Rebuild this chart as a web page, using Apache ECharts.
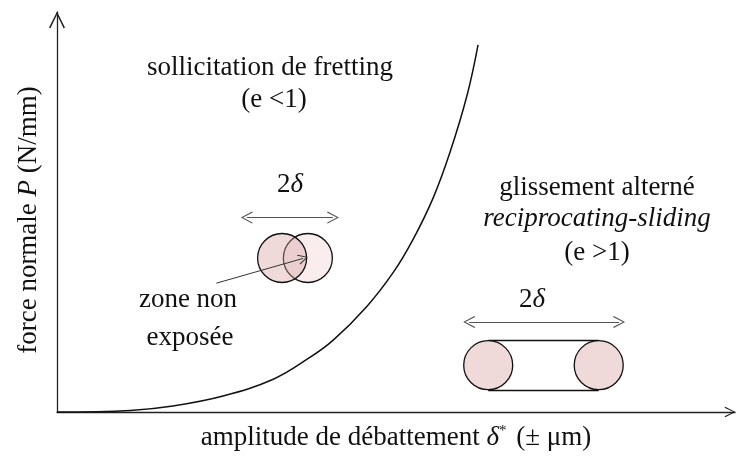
<!DOCTYPE html>
<html>
<head>
<meta charset="utf-8">
<script src="https://cdn.jsdelivr.net/npm/echarts@6/dist/echarts.min.js"></script>
<style>
  html, body { margin: 0; padding: 0; background: #fff; }
  #main { width: 737px; height: 456px; }
</style>
</head>
<body>
<div id="main"></div>
<script>
// courbe de transition (unités arbitraires 0..100)
const curveX = [0, 10.8, 17.1, 24.5, 31.9, 36.9, 40.7, 45.7, 49.6, 52.5, 55.5, 58.0, 60.5, 62.1];
const curveY = [0, 0.4, 1.5, 4.0, 8.2, 13.2, 17.9, 26.4, 34.9, 43.1, 53.6, 65.1, 79.3, 91.8];

// contacts schématiques : [x, y]
const fretLeft = [33.2, 38.5];
const fretRight = [37.0, 38.5];
const slideLeft = [63.6, 11.7];
const slideRight = [79.9, 11.7];

// flèches 2δ et flèche "zone non exposée"
const fretArrow = [[28.0, 48.6], [40.7, 48.6]];
const slideArrow = [[60.8, 22.5], [82.9, 22.5]];
const zoneArrow = [[23.5, 32.2], [36.3, 38.4]];
// tangentes entre les deux cercles
const slideTop = [[63.6, 18.0], [79.9, 18.0]];
const slideBottom = [[63.6, 5.5], [79.9, 5.5]];

const FONT = '"Liberation Serif", "DejaVu Serif", serif';
const FS = 27;
// chevron ouvert (pointe en haut)
const chevron = 'path://M5,0 L10,10 L9.2,10.7 L5,2 L0.8,10.7 L0,10 Z';

const myChart = echarts.init(document.getElementById('main'));

const text = (x, y, t, extra) => ({
    type: 'text', x: x, y: y,
    style: Object.assign({
        text: t, font: FS + 'px ' + FONT, fill: '#111',
        align: 'center', verticalAlign: 'middle',
        rich: {i: {fontStyle: 'italic', fontSize: FS, fontFamily: FONT, fill: '#111'}}
    }, extra || {})
});

const option = {
    animation: false,
    grid: {left: 57, right: 2, top: 12, bottom: 42},
    xAxis: {
        type: 'value', min: 0, max: 100,
        axisLine: {
            lineStyle: {color: '#222', width: 1.3},
            symbol: ['none', chevron], symbolSize: [20, 11], symbolOffset: [0, -5]
        },
        axisTick: {show: false}, axisLabel: {show: false}, splitLine: {show: false},
        name: 'amplitude de débattement {i|δ}{s|*} (± μm)',
        nameLocation: 'middle', nameGap: 12,
        nameTextStyle: {
            fontFamily: FONT, fontSize: FS, color: '#111',
            rich: {
                i: {fontStyle: 'italic', fontFamily: FONT, fontSize: FS, color: '#111'},
                s: {fontFamily: FONT, fontSize: 15, color: '#111', verticalAlign: 'top', padding: [0, 3, 10, 0]}
            }
        }
    },
    yAxis: {
        type: 'value', min: 0, max: 100,
        axisLine: {
            lineStyle: {color: '#222', width: 1.3},
            symbol: ['none', chevron], symbolSize: [19, 17], symbolOffset: [0, -8]
        },
        axisTick: {show: false}, axisLabel: {show: false}, splitLine: {show: false},
        name: 'force normale {i|P} (N/mm)',
        nameLocation: 'middle', nameGap: 15, nameRotate: 90,
        nameTextStyle: {
            fontFamily: FONT, fontSize: FS, color: '#111', padding: [0, 16, 0, 0],
            rich: {i: {fontStyle: 'italic', fontFamily: FONT, fontSize: FS, color: '#111'}}
        }
    },
    series: [
        {
            name: 'transition', type: 'line', smooth: 0.4, symbol: 'none',
            lineStyle: {color: '#111', width: 1.5},
            data: curveX.map((x, i) => [x, curveY[i]]), z: 3
        },
        {
            // tangentes
            type: 'lines', coordinateSystem: 'cartesian2d', symbol: 'none',
            lineStyle: {color: '#111', width: 1.3, opacity: 1},
            data: [{coords: slideTop}, {coords: slideBottom}], z: 2
        },
        {
            type: 'scatter', symbol: 'circle', symbolSize: 49,
            itemStyle: {color: '#f9eded', borderColor: '#111', borderWidth: 1.3, opacity: 1},
            data: [fretRight], z: 3
        },
        {
            type: 'scatter', symbol: 'circle', symbolSize: 49,
            itemStyle: {color: 'rgba(214,160,160,0.4)', borderColor: '#111', borderWidth: 1.3, opacity: 1},
            data: [fretLeft], z: 4
        },
        {
            type: 'scatter', symbol: 'circle', symbolSize: 49,
            itemStyle: {color: '#efd9d9', borderColor: '#111', borderWidth: 1.3, opacity: 1},
            data: [slideLeft, slideRight], z: 4
        },
        {
            // flèches 2δ
            type: 'lines', coordinateSystem: 'cartesian2d',
            symbol: [chevron, chevron], symbolSize: [12, 12],
            lineStyle: {color: '#555', width: 1, opacity: 1},
            data: [{coords: fretArrow}, {coords: slideArrow}], z: 5
        },
        {
            type: 'lines', coordinateSystem: 'cartesian2d',
            symbol: ['none', chevron], symbolSize: [12, 10],
            lineStyle: {color: '#333', width: 1, opacity: 1},
            data: [{coords: zoneArrow}], z: 6
        }
    ],
    graphic: [
        text(270, 68, 'sollicitation de fretting'),
        text(274, 100, '(e <1)'),
        text(290, 185, '2{i|δ}'),
        text(188, 300, 'zone non'),
        text(190, 338, 'exposée'),
        text(597, 188, 'glissement alterné'),
        text(597, 219, 'reciprocating-sliding', {font: 'italic ' + FS + 'px ' + FONT}),
        text(597, 253, '(e >1)'),
        text(532, 300, '2{i|δ}')
    ]
};

myChart.setOption(option);
</script>
</body>
</html>
